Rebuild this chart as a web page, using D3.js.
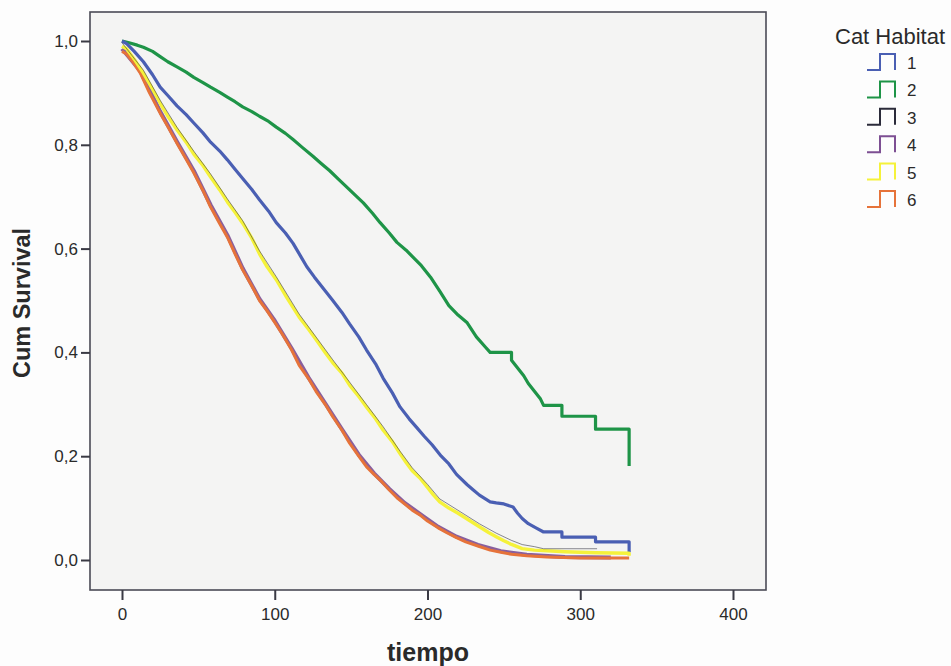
<!DOCTYPE html>
<html><head><meta charset="utf-8">
<script src="https://cdn.jsdelivr.net/npm/d3@7"></script>
<style>
body{margin:0;background:#fdfdfd}
text{font-family:"Liberation Sans",Arial,Helvetica,sans-serif;fill:#2a2a2a}
</style>
</head><body><svg id="c" width="951" height="666"></svg>
<script>
// ---- data ----
const categories = ["1","2","3","4","5","6"];
const legendTitle = "Cat Habitat";
const xTitle = "tiempo";
const yTitle = "Cum Survival";
const xTicks = [0,100,200,300,400];
const yTicks = [0,0.2,0.4,0.6,0.8,1.0];
const yTickLabels = ["0,0","0,2","0,4","0,6","0,8","1,0"];

const hab1 = [[0,1.0],[3,0.995],[8,0.98],[14,0.96],[20,0.935],[25,0.911],[30,0.895],[36,0.875],[42,0.858],[47,0.842],[53,0.823],[58,0.805],[64,0.788],[69,0.771],[74,0.753],[79,0.735],[85,0.714],[90,0.694],[96,0.672],[101,0.65],[107,0.63],[112,0.61],[117,0.585],[121,0.565],[126,0.545],[130,0.53],[134,0.515],[138,0.50],[144,0.477],[149,0.455],[155,0.43],[160,0.405],[166,0.378],[171,0.35],[177,0.322],[182,0.295],[188,0.272],[193,0.255],[198,0.238],[203,0.222],[209,0.2],[214,0.185],[219,0.165],[226,0.145],[230,0.135],[234,0.125],[241,0.112],[245,0.11],[250,0.108],[256,0.102],[259,0.09],[262,0.08],[266,0.07],[271,0.062],[276,0.054],[288,0.054],[288,0.044],[310,0.044],[310,0.035],[332,0.035],[332,0.015]];
const hab2 = [[0,1.0],[4,0.997],[10,0.992],[14,0.988],[20,0.98],[25,0.97],[30,0.96],[36,0.95],[42,0.94],[47,0.93],[53,0.92],[58,0.911],[64,0.901],[69,0.892],[74,0.883],[79,0.873],[85,0.864],[90,0.855],[96,0.845],[101,0.834],[107,0.822],[112,0.81],[118,0.795],[125,0.778],[130,0.765],[136,0.75],[142,0.733],[147,0.719],[153,0.702],[158,0.688],[164,0.668],[169,0.65],[175,0.63],[180,0.612],[186,0.597],[190,0.585],[196,0.567],[202,0.545],[208,0.518],[214,0.49],[220,0.472],[226,0.457],[232,0.43],[238,0.41],[241,0.40],[255,0.40],[255,0.385],[259,0.37],[263,0.355],[266,0.34],[270,0.325],[274,0.31],[276,0.298],[288,0.298],[288,0.277],[310,0.277],[310,0.252],[332,0.252],[332,0.181]];
const hab3 = [[0,0.995],[14,0.942],[25,0.884],[36,0.832],[47,0.786],[58,0.742],[69,0.694],[79,0.652],[90,0.594],[101,0.544],[116,0.472],[127,0.428],[138,0.384],[149,0.341],[160,0.298],[171,0.255],[182,0.208],[190,0.176],[200,0.144],[208,0.116],[220,0.094],[234,0.068],[245,0.05],[255,0.036],[262,0.028],[270,0.024],[276,0.02],[311,0.02]];
const hab4 = [[0,0.985],[12,0.942],[25,0.864],[36,0.806],[47,0.75],[58,0.684],[69,0.626],[79,0.562],[90,0.503],[100,0.461],[111,0.408],[122,0.352],[133,0.302],[144,0.252],[155,0.203],[165,0.167],[175,0.137],[185,0.11],[195,0.089],[207,0.064],[219,0.045],[233,0.029],[248,0.017],[265,0.01],[290,0.006],[320,0.005]];
const hab5 = [[0,0.99],[3,0.985],[8,0.965],[14,0.938],[20,0.907],[25,0.88],[30,0.855],[36,0.829],[42,0.805],[47,0.782],[53,0.76],[58,0.738],[64,0.713],[69,0.69],[74,0.67],[79,0.649],[85,0.62],[90,0.59],[95,0.565],[101,0.54],[108,0.505],[116,0.468],[122,0.445],[127,0.425],[133,0.4],[138,0.38],[144,0.36],[149,0.337],[155,0.315],[160,0.295],[166,0.272],[171,0.25],[177,0.228],[182,0.205],[186,0.188],[190,0.172],[195,0.158],[200,0.14],[204,0.125],[208,0.112],[214,0.1],[220,0.09],[227,0.077],[234,0.064],[240,0.053],[245,0.045],[250,0.037],[255,0.03],[262,0.022],[270,0.019],[290,0.016],[310,0.014],[332,0.013],[332,0.008]];
const hab6 = [[0,0.98],[3,0.975],[7,0.96],[12,0.938],[18,0.9],[25,0.861],[30,0.835],[36,0.803],[42,0.772],[47,0.746],[53,0.712],[58,0.68],[64,0.648],[69,0.622],[74,0.59],[79,0.559],[85,0.528],[90,0.50],[95,0.48],[100,0.458],[105,0.435],[111,0.405],[116,0.375],[122,0.35],[127,0.325],[133,0.3],[138,0.276],[144,0.25],[149,0.225],[155,0.2],[160,0.18],[165,0.165],[169,0.154],[175,0.135],[180,0.12],[185,0.108],[190,0.096],[195,0.087],[200,0.075],[207,0.062],[213,0.052],[219,0.043],[225,0.035],[233,0.027],[241,0.019],[248,0.015],[255,0.011],[265,0.008],[278,0.006],[300,0.004],[332,0.004]];

// ---- styles ----
const colors = {"1":"#4a5fb3","2":"#1e9447","3":"#2b2b3a","4":"#7d4f93","5":"#f5f23a","6":"#e6733a"};

const svg = d3.select("#c");
const frame = {l:90, t:12, r:766, b:590};
const x = d3.scaleLinear().domain([0,400]).range([122,733]);
const y = d3.scaleLinear().domain([0,1]).range([560,41]);

svg.append("rect").attr("x",frame.l).attr("y",frame.t)
  .attr("width",frame.r-frame.l).attr("height",frame.b-frame.t)
  .attr("fill","#f4f4f3");

const line = d3.line().x(d=>x(d[0])).y(d=>y(d[1])).curve(d3.curveLinear);
const g = svg.append("g");
function draw(data,key,w,op,dy){
  g.append("path").datum(data).attr("d",line).attr("fill","none")
   .attr("stroke",colors[key]).attr("stroke-width",w).attr("stroke-opacity",op)
   .attr("stroke-linejoin","round").attr("transform",`translate(0,${dy||0})`);
}
draw(hab2,"2",3.2,1);
draw(hab1,"1",3.2,1);
draw(hab4,"4",4,0.9);
draw(hab6,"6",3,1);
draw(hab5,"5",3.4,1);
draw(hab3,"3",1,0.55,-0.9);

// frame
svg.append("rect").attr("x",frame.l).attr("y",frame.t)
  .attr("width",frame.r-frame.l).attr("height",frame.b-frame.t)
  .attr("fill","none").attr("stroke","#4a4a55").attr("stroke-width",1.6);

// axes
const ya = svg.append("g").attr("transform",`translate(${frame.l},0)`)
  .call(d3.axisLeft(y).tickValues(yTicks).tickFormat((d,i)=>yTickLabels[i]).tickSize(9).tickPadding(3));
const xa = svg.append("g").attr("transform",`translate(0,${frame.b})`)
  .call(d3.axisBottom(x).tickValues(xTicks).tickFormat(d3.format("d")).tickSize(10).tickPadding(8));
[ya,xa].forEach(a=>{
  a.select(".domain").remove();
  a.selectAll(".tick line").attr("stroke","#3a3a44").attr("stroke-width",2);
  a.selectAll(".tick text").attr("font-size",17).attr("fill","#2a2a2a")
   .style("font-family",'"Liberation Sans",Arial,sans-serif');
});

// axis titles
svg.append("text").attr("x",428).attr("y",661).attr("text-anchor","middle")
  .attr("font-size",25).attr("font-weight","bold").text(xTitle);
svg.append("text").attr("transform","translate(30,303) rotate(-90)").attr("text-anchor","middle")
  .attr("font-size",23.5).attr("font-weight","bold").text(yTitle);

// legend
svg.append("text").attr("x",835).attr("y",44).attr("font-size",22).text(legendTitle);
const lg = svg.append("g");
categories.forEach((c,i)=>{
  const yc = 62 + i*27.4;
  lg.append("path").attr("d",`M867,${yc+8}H880V${yc-8}H895V${yc+8}`)
    .attr("fill","none").attr("stroke",colors[c]).attr("stroke-width",2);
  lg.append("text").attr("x",907).attr("y",yc+7).attr("font-size",17).text(c);
});
</script>
</body></html>
